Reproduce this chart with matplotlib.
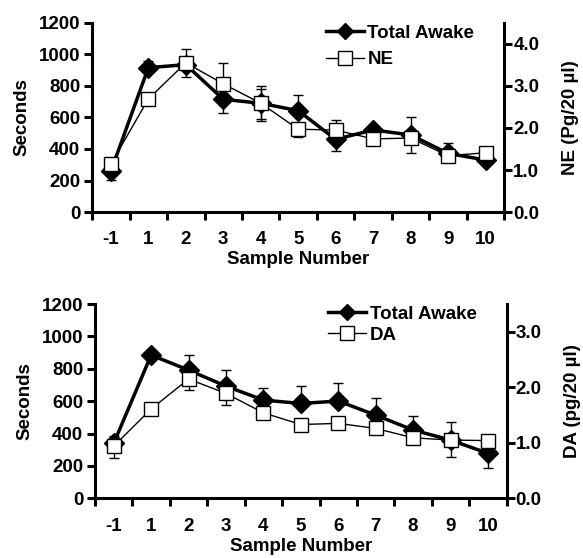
import matplotlib
matplotlib.use("Agg")
import matplotlib.pyplot as plt
import numpy as np
from matplotlib.lines import Line2D

plt.rcParams['font.family'] = ['Liberation Sans', 'DejaVu Sans']
plt.rcParams['font.weight'] = 'bold'

samples = ['-1', '1', '2', '3', '4', '5', '6', '7', '8', '9', '10']

# Top panel: Total Awake (seconds) and NE (pg/20 ul)
top_awake = [258, 916, 935, 715, 690, 643, 461, 521, 489, 372, 330]
top_awake_err_lo = [55, 0, 80, 89, 100, 0, 72, 0, 0, 0, 25]
top_awake_err_hi = [0, 45, 0, 0, 90, 100, 0, 27, 0, 64, 0]
ne = [1.14, 2.69, 3.55, 3.05, 2.59, 1.97, 1.95, 1.74, 1.76, 1.34, 1.41]
ne_err_lo = [0, 0, 0, 0, 0.43, 0.19, 0, 0, 0.36, 0, 0]
ne_err_hi = [0, 0, 0.32, 0.49, 0.40, 0, 0.24, 0, 0.49, 0, 0]

# Bottom panel: Total Awake (seconds) and DA (pg/20 ul)
bot_awake = [340, 885, 792, 693, 607, 586, 601, 514, 422, 360, 278]
bot_awake_err_lo = [0, 0, 0, 0, 0, 0, 0, 0, 0, 0, 89]
bot_awake_err_hi = [45, 26, 93, 99, 72, 109, 109, 107, 86, 113, 0]
da = [0.94, 1.61, 2.15, 1.89, 1.54, 1.33, 1.35, 1.26, 1.09, 1.05, 1.04]
da_err_lo = [0.22, 0, 0.19, 0.21, 0, 0, 0, 0, 0, 0.30, 0]
da_err_hi = [0, 0, 0, 0, 0, 0, 0, 0, 0, 0, 0]

left_ticks = [0, 200, 400, 600, 800, 1000, 1200]
top_right_ticks = [0.0, 1.0, 2.0, 3.0, 4.0]
bot_right_ticks = [0.0, 1.0, 2.0, 3.0]

FS = 13.5
LW_SPINE = 2.2

fig = plt.figure(figsize=(5.83, 5.58), dpi=100)


def panel(rect, awake, a_lo, a_hi, chem, c_lo, c_hi, rmax, rticks, rlabel,
          chem_name, lspace):
    ax = fig.add_axes(rect)
    ax2 = ax.twinx()
    x = np.arange(len(samples))
    n = len(samples)

    ax.errorbar(x, awake, yerr=[a_lo, a_hi], fmt='none', ecolor='black',
                elinewidth=1, capsize=3.5, capthick=1, zorder=2)
    ax.plot(x, awake, color='black', lw=2.5, marker='D', ms=10,
            mfc='black', mec='black', zorder=3)

    ax2.errorbar(x, chem, yerr=[c_lo, c_hi], fmt='none', ecolor='black',
                 elinewidth=1, capsize=3.5, capthick=1, zorder=2)
    ax2.plot(x, chem, color='black', lw=1, marker='s', ms=10.5,
             mfc='white', mec='black', mew=1, zorder=3)

    ax.set_xlim(-0.5, n - 0.5)
    ax.set_ylim(0, 1200)
    ax2.set_ylim(0, rmax)
    ax.set_yticks(left_ticks)
    ax.set_yticklabels([str(v) for v in left_ticks])
    ax2.set_yticks(rticks)
    ax2.set_yticklabels([f"{v:.1f}" for v in rticks])

    ax.set_xticks(np.arange(-0.5, n, 1.0))
    ax.set_xticklabels([])
    ax.set_xticks(x, minor=True)
    ax.set_xticklabels(samples, minor=True)
    ax.tick_params(axis='x', which='major', direction='out', length=5.5, width=LW_SPINE)
    ax.tick_params(axis='x', which='minor', length=0, pad=14, labelsize=FS)
    ax.tick_params(axis='y', direction='out', length=5.5, width=LW_SPINE, labelsize=FS, pad=3)
    ax2.tick_params(axis='y', direction='out', length=5.5, width=LW_SPINE, labelsize=FS, pad=1)

    for s in ['top', 'right']:
        ax.spines[s].set_visible(False)
    for s in ['top', 'left', 'bottom']:
        ax2.spines[s].set_visible(False)
    for s in ['left', 'bottom']:
        ax.spines[s].set_linewidth(LW_SPINE)
    ax2.spines['right'].set_linewidth(LW_SPINE)

    ax.set_ylabel('Seconds', fontsize=FS, fontweight='bold', labelpad=6)
    ax2.set_ylabel(rlabel, fontsize=FS, fontweight='bold', labelpad=16)
    ax.set_xlabel('Sample Number', fontsize=FS, fontweight='bold', labelpad=2)

    h1 = Line2D([], [], color='black', lw=2.5, marker='D', ms=8, mfc='black')
    h2 = Line2D([], [], color='black', lw=1, marker='s', ms=10, mfc='white', mec='black')
    ax2.legend([h1, h2], ['Total Awake', chem_name], loc='upper right',
               bbox_to_anchor=(0.945, 1.03), frameon=False, fontsize=FS,
               handlelength=2.0, handletextpad=0.2, labelspacing=lspace,
               borderaxespad=0)
    return ax, ax2


panel([0.158, 0.620, 0.707, 0.339], top_awake, top_awake_err_lo, top_awake_err_hi,
      ne, ne_err_lo, ne_err_hi, 4.5, top_right_ticks, 'NE (Pg/20 µl)', 'NE', 0.5)
panel([0.163, 0.107, 0.706, 0.348], bot_awake, bot_awake_err_lo, bot_awake_err_hi,
      da, da_err_lo, da_err_hi, 3.5, bot_right_ticks, 'DA (pg/20 µl)', 'DA', 0.2)

fig.savefig('out.png', dpi=100)
